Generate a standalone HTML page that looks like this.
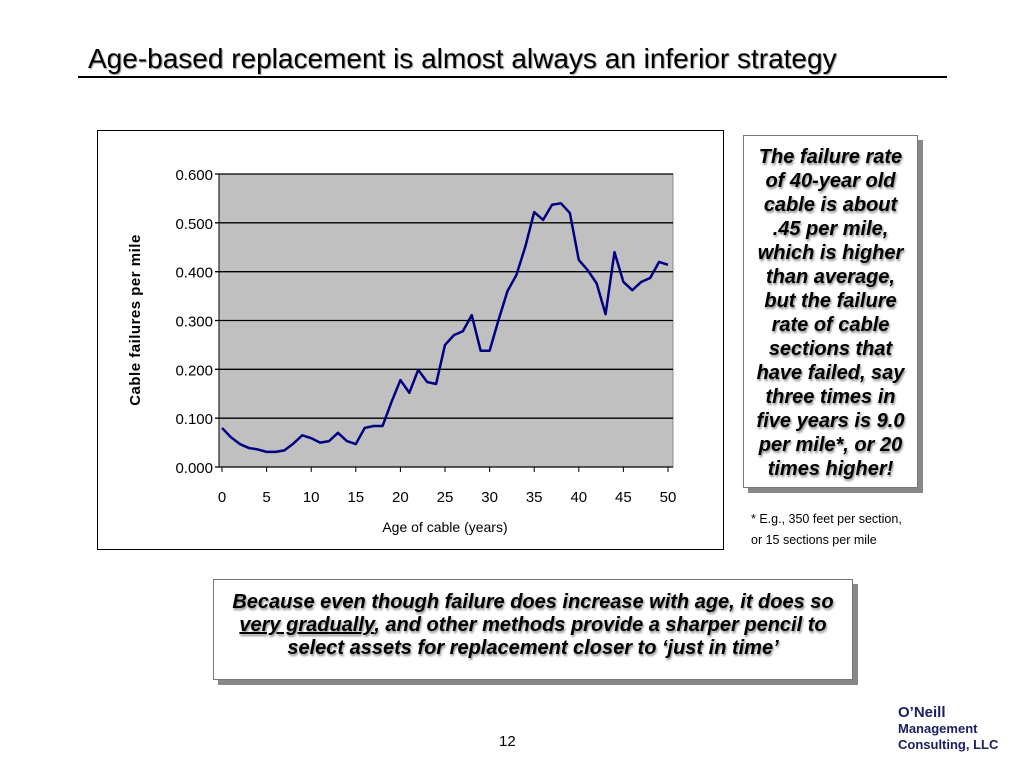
<!DOCTYPE html>
<html><head><meta charset="utf-8"><style>
body{margin:0;width:1024px;height:768px;background:#fff;position:relative;overflow:hidden;font-family:"Liberation Sans",Arial,sans-serif}
.abs{position:absolute}
.title{left:88px;top:43px;font-size:28px;color:#000;text-shadow:1px 1px 1px #999;white-space:nowrap}
.rule{left:78px;top:76px;width:869px;height:2px;background:#000}
.chartbox{left:97px;top:130px;width:625px;height:418px;border:1px solid #000;background:#fff}
.callout{left:743px;top:135px;width:175px;height:353px;border:1px solid #777;background:#fff;box-shadow:5px 5px 0 #888;text-align:center;font-weight:bold;font-style:italic;font-size:20px;line-height:24px;text-shadow:1px 2px 2px #888;box-sizing:border-box;padding-top:9px;white-space:nowrap}
.foot{left:751px;top:509px;font-size:12.5px;line-height:21px}
.bottom{left:213px;top:579px;width:640px;height:101px;border:1px solid #777;background:#fff;box-shadow:5px 5px 0 #888;text-align:center;font-weight:bold;font-style:italic;font-size:20px;line-height:23px;text-shadow:1px 2px 2px #888;box-sizing:border-box;padding-top:11px;white-space:nowrap}
.page{left:499px;top:733px;font-size:15px}
.logo{left:898px;top:705px;color:#1a2060;font-weight:bold;line-height:16px}
</style></head><body>
<div class="abs title">Age-based replacement is almost always an inferior strategy</div>
<div class="abs rule"></div>
<div class="abs chartbox"></div>
<svg class="abs" style="left:0;top:0" width="1024" height="768">
<g id="plot"></g>
</svg>
<div class="abs callout">The failure rate<br>of 40-year old<br>cable is about<br>.45 per mile,<br>which is higher<br>than average,<br>but the failure<br>rate of cable<br>sections that<br>have failed, say<br>three times in<br>five years is 9.0<br>per mile*, or 20<br>times higher!</div>
<div class="abs foot">* E.g., 350 feet per section,<br>or 15 sections per mile</div>
<div class="abs bottom">Because even though failure does increase with age, it does so<br><u>very gradually</u>, and other methods provide a sharper pencil to<br>select assets for replacement closer to ‘just in time’</div>
<div class="abs page">12</div>
<div class="abs logo"><span style="font-size:15px">O’Neill</span><br><span style="font-size:13px">Management<br>Consulting, LLC</span></div>
<script>
const years=[0,1,2,3,4,5,6,7,8,9,10,11,12,13,14,15,16,17,18,19,20,21,22,23,24,25,26,27,28,29,30,31,32,33,34,35,36,37,38,39,40,41,42,43,44,45,46,47,48,49,50];
const failures=[0.080,0.061,0.047,0.039,0.036,0.031,0.031,0.034,0.048,0.065,0.059,0.050,0.053,0.070,0.053,0.047,0.080,0.084,0.084,0.133,0.178,0.152,0.199,0.174,0.170,0.250,0.270,0.278,0.311,0.238,0.238,0.301,0.360,0.393,0.451,0.522,0.506,0.537,0.540,0.520,0.424,0.403,0.376,0.313,0.440,0.379,0.362,0.379,0.387,0.420,0.414];
const yTicks=[0,0.1,0.2,0.3,0.4,0.5,0.6];
const xTicks=[0,5,10,15,20,25,30,35,40,45,50];
const NS='http://www.w3.org/2000/svg';
const g=document.getElementById('plot');
const L=219,R=673,T=174,B=467;
const xS=v=>222+(v/50)*(668-222);
const yS=v=>B-(v/0.6)*(B-T);
function mk(t,a){const e=document.createElementNS(NS,t);for(const k in a)e.setAttribute(k,a[k]);g.appendChild(e);return e;}
const bg=mk('rect',{x:L,y:T,width:R-L,height:B-T,fill:'#c0c0c0',stroke:'#888'});


yTicks.forEach(v=>{
  const y=yS(v);
  const gl=mk('line',{x1:L-4,x2:R,y1:y,y2:y,stroke:'#000','stroke-width':1.3});
  
  
  const t=mk('text',{x:L-6,y:y+6,'text-anchor':'end','font-size':15,'font-family':'Liberation Sans, sans-serif'});
  t.textContent=v.toFixed(3);
  
  
});
mk('line',{x1:L,x2:L,y1:T,y2:B,stroke:'#000'});
mk('line',{x1:L,x2:R,y1:B,y2:B,stroke:'#000'});
xTicks.forEach(v=>{
  const x=xS(v);
  mk('line',{x1:x,x2:x,y1:B,y2:B+5,stroke:'#000'});
  const t=mk('text',{x:x,y:B+35,'text-anchor':'middle','font-size':15,'font-family':'Liberation Sans, sans-serif'});
  t.textContent=v;
  
  
});
const p=mk('polyline',{points:years.map((yr,i)=>xS(yr)+','+yS(failures[i])).join(' '),fill:'none',stroke:'#000080','stroke-width':2.5,'stroke-linejoin':'round'});


const xt=mk('text',{x:445,y:532,'text-anchor':'middle','font-size':14,'font-family':'Liberation Sans, sans-serif'});
xt.textContent='Age of cable (years)';


const yt=mk('text',{x:0,y:0,transform:'translate(140,320) rotate(-90)','text-anchor':'middle','font-size':15,'font-weight':'bold','letter-spacing':'0.5','font-family':'Liberation Sans, sans-serif'});
yt.textContent='Cable failures per mile';


</script>
</body></html>
